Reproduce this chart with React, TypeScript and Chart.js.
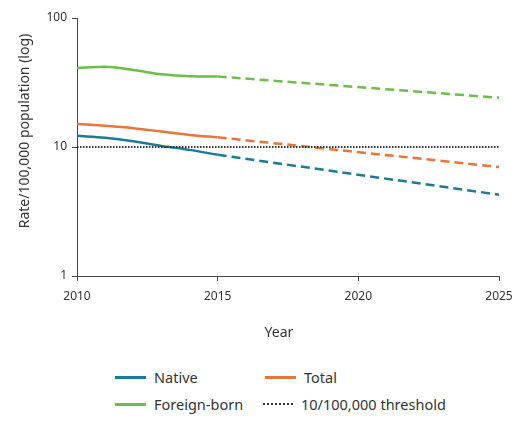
import React, { useEffect, useRef } from "react";
import { Chart, registerables } from "chart.js";

Chart.register(...registerables);

const solidYears = [2010, 2011, 2012, 2013, 2014, 2015];
const projYears = [2015, 2025];
const nativeRates = [12.2, 11.8, 11.1, 10.2, 9.5, 8.7];
const nativeProj = [8.7, 4.27];
const totalRates = [15.1, 14.6, 14.0, 13.2, 12.4, 11.9];
const totalProj = [11.9, 7.0];
const foreignRates = [41, 41.8, 39.6, 36.6, 35.4, 35.2];
const foreignProj = [35.2, 24.1];
const thresholdYears = [2010, 2025];
const thresholdValue = 10;
const xTicks = [2010, 2015, 2020, 2025];
const yTicks = [1, 10, 100];
const xTitle = "Year";
const yTitle = "Rate/100,000 population (log)";

const COLORS = {
  native: "#1b7a97",
  total: "#e8763a",
  foreign: "#6cbd4a",
  threshold: "#333333",
};

const pts = (xs: number[], ys: number[]) => xs.map((x, i) => ({ x, y: ys[i] }));

const titlesPlugin = {
  id: "customTitles",
  afterDraw(chart: any) {
    const ctx = chart.ctx;
    ctx.save();
    ctx.fillStyle = "#333";
    ctx.font = "14px 'Noto Sans'";
    ctx.textAlign = "center";
    ctx.textBaseline = "middle";
    ctx.fillText(xTitle, 279, 333);
    ctx.translate(25, 131);
    ctx.rotate(-Math.PI / 2);
    ctx.fillText(yTitle, 0, 0);
    ctx.restore();
  },
};

export default function App() {
  const ref = useRef<HTMLCanvasElement | null>(null);
  useEffect(() => {
    if (!ref.current) return;
    const solid = (label: string, data: any, color: string) => ({
      label,
      data,
      borderColor: color,
      backgroundColor: color,
      borderWidth: 2.5,
      pointRadius: 0,
      cubicInterpolationMode: "monotone" as const,
      fill: false,
    });
    const dashed = (label: string, data: any, color: string) => ({
      label,
      data,
      borderColor: color,
      backgroundColor: color,
      borderWidth: 2.5,
      borderDash: [9, 5],
      pointRadius: 0,
      fill: false,
    });
    const chart = new Chart(ref.current, {
      type: "line",
      data: {
        datasets: [
          {
            label: "10/100,000 threshold",
            data: pts(thresholdYears, thresholdYears.map(() => thresholdValue)),
            borderColor: COLORS.threshold,
            borderWidth: 2,
            borderDash: [1.5, 1.5],
            pointRadius: 0,
            fill: false,
          },
          solid("Native", pts(solidYears, nativeRates), COLORS.native),
          dashed("Native projection", pts(projYears, nativeProj), COLORS.native),
          solid("Total", pts(solidYears, totalRates), COLORS.total),
          dashed("Total projection", pts(projYears, totalProj), COLORS.total),
          solid("Foreign-born", pts(solidYears, foreignRates), COLORS.foreign),
          dashed("Foreign-born projection", pts(projYears, foreignProj), COLORS.foreign),
        ],
      },
      plugins: [titlesPlugin],
      options: {
        animation: false,
        responsive: false,
        maintainAspectRatio: false,
        layout: { padding: { top: 18, right: 28, left: 0, bottom: 0 } },
        plugins: { legend: { display: false }, tooltip: { enabled: false } },
        scales: {
          x: {
            type: "linear",
            min: 2010,
            max: 2025,
            afterBuildTicks: (s: any) => {
              s.ticks = xTicks.map((v) => ({ value: v }));
            },
            afterFit: (s: any) => {
              s.height = 69;
            },
            ticks: {
              color: "#333",
              font: { family: "'Noto Sans'", size: 12 },
              padding: 8,
              maxRotation: 0,
              callback: (v: any) => String(v),
            },
            grid: {
              display: true,
              drawOnChartArea: false,
              drawTicks: true,
              tickLength: 5,
              color: "#444",
            },
            border: { display: true, color: "#444", width: 1 },
          },
          y: {
            type: "logarithmic",
            min: 1,
            max: 100,
            afterBuildTicks: (s: any) => {
              s.ticks = yTicks.map((v) => ({ value: v }));
            },
            afterFit: (s: any) => {
              s.width = 77;
            },
            ticks: {
              color: "#333",
              font: { family: "'Noto Sans'", size: 12 },
              padding: 5,
              callback: (v: any) => String(v),
            },
            grid: {
              display: true,
              drawOnChartArea: false,
              drawTicks: true,
              tickLength: 5,
              color: "#444",
            },
            border: { display: true, color: "#444", width: 1 },
          },
        },
      },
    });
    return () => chart.destroy();
  }, []);

  const legendItem = (left: number, top: number, color: string, label: string, dotted = false) => (
    <div
      style={{
        position: "absolute",
        left,
        top,
        display: "flex",
        alignItems: "center",
        height: 20,
      }}
    >
      <div
        style={{
          width: dotted ? 30 : 31,
          height: 0,
          borderTop: dotted ? `2px dotted ${color}` : `3px solid ${color}`,
          marginRight: 8,
        }}
      />
      <span style={{ fontFamily: "'Noto Sans'", fontSize: 14.5, color: "#333", whiteSpace: "nowrap" }}>
        {label}
      </span>
    </div>
  );

  return (
    <div style={{ position: "fixed", left: 0, top: 0, width: 527, height: 423, background: "#fff" }}>
      <canvas ref={ref} width={527} height={345} style={{ position: "absolute", left: 0, top: 0 }} />
      {legendItem(115, 367, COLORS.native, "Native")}
      {legendItem(265, 367, COLORS.total, "Total")}
      {legendItem(115, 394, COLORS.foreign, "Foreign-born")}
      {legendItem(263, 394, COLORS.threshold, "10/100,000 threshold", true)}
    </div>
  );
}
